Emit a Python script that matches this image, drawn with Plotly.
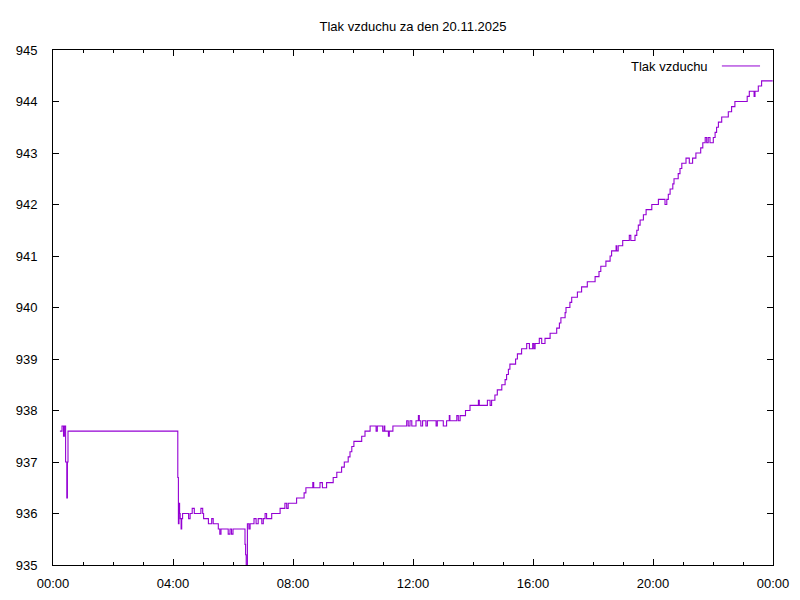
import plotly.graph_objects as go

# time of day in hours, pressure in hPa (step data)
hours = [
    0.23, 0.30, 0.35, 0.38, 0.42, 0.46, 0.48, 0.50,
    4.16, 4.18, 4.20, 4.22, 4.24, 4.27, 4.29, 4.32, 4.52, 4.57, 4.64, 4.71,
    4.93, 4.99, 5.02, 5.18, 5.29, 5.34, 5.51, 5.56, 5.60, 5.84, 5.90, 5.95,
    6.00, 6.40, 6.42, 6.44, 6.48, 6.53, 6.57, 6.70, 6.77, 6.84, 6.96, 7.01,
    7.07, 7.12, 7.29, 7.57, 7.73, 7.79, 7.84,
    8.12, 8.37, 8.43, 8.66, 8.69, 8.90, 8.98, 9.12, 9.34, 9.46, 9.62, 9.71,
    9.84, 9.90, 9.96, 10.03, 10.29, 10.40, 10.57, 10.77, 10.81, 10.99, 11.04,
    11.06, 11.18, 11.21, 11.33, 11.79, 11.84, 11.90, 11.96, 12.10, 12.18,
    12.21, 12.26, 12.32, 12.43, 12.48, 12.77, 12.81, 13.01, 13.12, 13.21,
    13.23, 13.46, 13.51, 13.57, 13.62, 13.75, 13.90, 14.18, 14.21, 14.48,
    14.57, 14.62, 14.73, 14.81, 14.96, 15.07, 15.12, 15.18, 15.23, 15.42,
    15.48, 15.62, 15.79, 15.88, 15.99, 16.03, 16.07, 16.21, 16.29, 16.40,
    16.57, 16.79, 16.88, 16.93, 17.07, 17.10, 17.23, 17.29, 17.48, 17.62,
    17.81, 18.07, 18.20, 18.26, 18.43, 18.57, 18.62, 18.77, 18.79, 18.84,
    18.99, 19.21, 19.26, 19.40, 19.46, 19.51, 19.57, 19.68, 19.77, 19.96,
    20.18, 20.40, 20.46, 20.51, 20.57, 20.66, 20.70, 20.84, 20.90, 20.96,
    21.10, 21.21, 21.32, 21.43, 21.59, 21.66, 21.74, 21.79, 21.84, 21.90,
    22.01, 22.07, 22.12, 22.18, 22.29, 22.51, 22.62, 22.73, 23.14, 23.21,
    23.37, 23.40, 23.51, 23.62, 23.99,
]
pressure = [
    937.6, 937.7, 937.5, 937.7, 937.0, 936.3, 937.0, 937.6,
    936.7, 935.8, 936.2, 936.0, 935.9, 935.7, 935.9, 936.0, 935.9, 936.0, 936.1, 936.0,
    936.1, 936.0, 935.9, 935.8, 935.9, 935.8, 935.7, 935.6, 935.7, 935.6, 935.7, 935.6,
    935.7, 935.4, 935.2, 935.0, 935.8, 935.7, 935.8, 935.9, 935.8, 935.9, 935.8, 935.9,
    936.0, 935.9, 936.0, 936.1, 936.2, 936.1, 936.2,
    936.3, 936.4, 936.5, 936.6, 936.5, 936.6, 936.5, 936.6, 936.7, 936.8, 936.9, 937.0,
    937.1, 937.2, 937.3, 937.4, 937.5, 937.6, 937.7, 937.6, 937.7, 937.6, 937.7,
    937.6, 937.5, 937.6, 937.7, 937.8, 937.7, 937.8, 937.7, 937.8, 937.9,
    937.8, 937.7, 937.8, 937.7, 937.8, 937.7, 937.8, 937.7, 937.8, 937.9,
    937.8, 937.9, 937.8, 937.9, 937.9, 938.0, 938.1, 938.2, 938.1, 938.2,
    938.1, 938.2, 938.3, 938.4, 938.5, 938.6, 938.7, 938.8, 938.9, 939.0,
    939.1, 939.2, 939.3, 939.2, 939.3, 939.2, 939.3, 939.4, 939.3, 939.4,
    939.5, 939.6, 939.7, 939.8, 939.9, 940.0, 940.1, 940.2, 940.3, 940.4,
    940.5, 940.6, 940.7, 940.8, 940.9, 941.0, 941.1, 941.2, 941.1, 941.2,
    941.3, 941.4, 941.3, 941.4, 941.5, 941.6, 941.7, 941.8, 941.9, 942.0,
    942.1, 942.0, 942.1, 942.2, 942.3, 942.4, 942.5, 942.6, 942.7, 942.8,
    942.9, 942.8, 942.9, 943.0, 943.1, 943.2, 943.3, 943.2, 943.3, 943.2,
    943.3, 943.4, 943.5, 943.6, 943.7, 943.8, 943.9, 944.0, 944.1, 944.2,
    944.1, 944.2, 944.3, 944.4, 944.4,
]

x_tick_vals = [0, 4, 8, 12, 16, 20, 24]
x_tick_text = ["00:00", "04:00", "08:00", "12:00", "16:00", "20:00", "00:00"]
y_tick_vals = [935, 936, 937, 938, 939, 940, 941, 942, 943, 944, 945]

title_text = "Tlak vzduchu za den 20.11.2025"
series_name = "Tlak vzduchu"
line_color = "#9400D3"
font_family = "Liberation Sans, Arial, sans-serif"
font_size = 13

fig = go.Figure()
fig.add_trace(go.Scatter(
    x=hours, y=pressure, mode="lines", name=series_name,
    line=dict(color=line_color, width=1.1, shape="hv"),
    showlegend=False, hoverinfo="skip",
))

axis_common = dict(
    showline=True, linecolor="black", linewidth=1, mirror="allticks",
    ticks="inside", ticklen=6, tickwidth=1, tickcolor="black",
    showgrid=False, zeroline=False,
    tickfont=dict(family=font_family, size=font_size, color="black"),
)

fig.update_xaxes(
    range=[0, 24], tickvals=x_tick_vals, ticktext=x_tick_text,
    ticklabelstandoff=6,
    minor=dict(dtick=1, ticks="inside", ticklen=3, tickcolor="black", showgrid=False),
    **axis_common,
)
fig.update_yaxes(range=[935, 945], tickvals=y_tick_vals,
                 ticklabelstandoff=12, **axis_common)

# gnuplot-style key: text followed by a line sample
fig.add_annotation(
    text=series_name, xref="paper", yref="paper",
    x=0.9125, y=0.967, xanchor="right", yanchor="middle",
    showarrow=False, font=dict(family=font_family, size=font_size, color="black"),
)
fig.add_shape(
    type="line", xref="paper", yref="paper",
    x0=0.929, x1=0.982, y0=0.969, y1=0.969,
    line=dict(color=line_color, width=1),
)

fig.update_layout(
    width=800, height=600,
    margin=dict(l=53, r=27, t=50, b=35, autoexpand=False),
    paper_bgcolor="white", plot_bgcolor="white",
    title=dict(text=title_text, x=413 / 800, xanchor="center",
               y=1 - 26 / 600, yanchor="middle",
               font=dict(family=font_family, size=font_size, color="black")),
    font=dict(family=font_family, size=font_size, color="black"),
)

post = "document.body.style.margin='0';"
fig.write_html("out.html", post_script=post, config={"displayModeBar": False})
